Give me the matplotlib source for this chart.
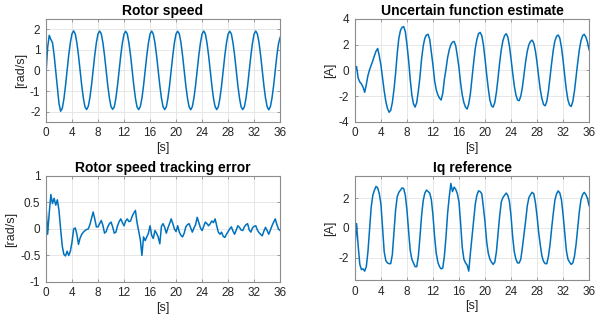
import numpy as np
import matplotlib
matplotlib.use("Agg")
import matplotlib.pyplot as plt

plt.rcParams['font.family'] = ['Liberation Sans', 'DejaVu Sans']
plt.rcParams['axes.unicode_minus'] = False

dt = 0.25

rotor_speed = [
    -0.2, 1.1, 1.7, 1.5, 1.35, 0.75, -0.05, -0.85, -1.6, -1.98, -1.85, -1.4, -0.75, 0.0, 0.75, 1.35,
    1.78, 1.92, 1.77, 1.34, 0.72, 0.0, -0.74, -1.35, -1.77, -1.9, -1.75, -1.33, -0.72, 0.01, 0.74, 1.35,
    1.77, 1.91, 1.78, 1.35, 0.73, -0.01, -0.73, -1.34, -1.76, -1.89, -1.77, -1.34, -0.73, 0.0, 0.73, 1.34,
    1.76, 1.9, 1.77, 1.33, 0.74, 0.0, -0.72, -1.35, -1.77, -1.9, -1.76, -1.35, -0.74, 0.0, 0.72, 1.33,
    1.77, 1.91, 1.76, 1.34, 0.73, 0.01, -0.73, -1.34, -1.76, -1.9, -1.77, -1.34, -0.73, -0.01, 0.73, 1.35,
    1.78, 1.9, 1.77, 1.35, 0.72, 0.0, -0.74, -1.34, -1.77, -1.91, -1.76, -1.33, -0.72, 0.0, 0.74, 1.34,
    1.77, 1.91, 1.78, 1.34, 0.73, 0.0, -0.73, -1.35, -1.76, -1.9, -1.76, -1.34, -0.73, 0.01, 0.73, 1.34,
    1.76, 1.9, 1.77, 1.34, 0.74, 0.0, -0.73, -1.34, -1.77, -1.9, -1.77, -1.35, -0.74, 0.0, 0.72, 1.33,
    1.77, 1.91, 1.77, 1.35, 0.73, 0.0, -0.73, -1.34, -1.76, -1.91, -1.76, -1.34, -0.73, 0.0, 0.73, 1.3,
    1.6,
]

uncertain_est = [
    0.0, 0.3, -0.6, -0.9, -1.05, -1.3, -1.7, -1.1, -0.4, 0.05, 0.4, 0.75, 1.15, 1.5, 1.7, 1.1,
    0.4, -0.6, -1.6, -2.4, -2.95, -3.25, -3.1, -2.5, -1.5, -0.25, 1.3, 2.5, 3.1, 3.35, 3.4, 3.0,
    2.0, 0.8, -0.7, -1.9, -2.6, -2.85, -2.5, -1.6, -0.5, 0.9, 1.9, 2.5, 2.75, 2.8, 2.4, 1.4,
    0.4, -0.8, -1.5, -1.9, -2.15, -2.3, -1.8, -0.7, 0.1, 1.0, 1.6, 2.0, 2.2, 2.25, 1.9, 1.1,
    0.2, -1.0, -1.9, -2.5, -2.85, -3.0, -2.6, -1.8, -0.6, 0.6, 1.7, 2.4, 2.85, 2.95, 2.7, 2.0,
    0.9, -0.3, -1.4, -2.3, -2.75, -2.85, -2.5, -1.7, -0.6, 0.6, 1.6, 2.3, 2.7, 2.85, 2.6, 1.9,
    0.9, -0.2, -1.2, -1.9, -2.3, -2.35, -2.0, -1.3, -0.3, 0.7, 1.5, 2.0, 2.25, 2.35, 2.1, 1.5,
    0.6, -0.5, -1.5, -2.2, -2.65, -2.75, -2.4, -1.6, -0.5, 0.6, 1.6, 2.3, 2.65, 2.75, 2.5, 1.8,
    0.8, -0.4, -1.5, -2.3, -2.7, -2.8, -2.4, -1.6, -0.5, 0.6, 1.6, 2.3, 2.7, 2.8, 2.6, 2.2,
    1.6,
]

tracking_err = [
    0.45, -0.1, 0.3, 0.65, 0.48, 0.58, 0.45, 0.55, 0.35, 0.0, -0.32, -0.48, -0.51, -0.42, -0.5, -0.42,
    -0.25, 0.0, 0.02, -0.1, -0.29, -0.17, -0.1, -0.06, -0.03, -0.01, 0.0, 0.08, 0.2, 0.32, 0.19, 0.04,
    0.04, 0.1, 0.16, 0.07, -0.08, -0.05, 0.04, 0.1, 0.13, 0.04, -0.08, -0.06, 0.06, 0.14, 0.19, 0.12,
    0.06, 0.15, 0.19, 0.14, 0.15, 0.24, 0.3, 0.35, 0.12, -0.04, -0.2, -0.5, -0.15, -0.22, -0.15, -0.08,
    0.06, -0.12, -0.18, -0.03, -0.08, -0.15, -0.28, 0.05, 0.1, 0.03, -0.08, 0.02, 0.1, 0.19, 0.1, 0.0,
    -0.05, 0.06, -0.06, -0.12, -0.15, -0.08, 0.04, 0.08, 0.1, 0.02, -0.06, 0.02, 0.08, 0.22, 0.12, 0.02,
    -0.03, 0.05, 0.13, 0.1, 0.06, 0.1, 0.15, 0.12, 0.19, 0.06, -0.06, -0.1, -0.06, -0.14, -0.16, -0.1,
    -0.05, 0.0, 0.04, -0.04, -0.1, -0.02, 0.06, 0.03, -0.02, -0.03, 0.04, 0.08, 0.1, -0.02, -0.06, 0.02,
    0.05, 0.06, -0.02, -0.07, -0.1, -0.13, -0.04, 0.03, -0.03, -0.1, -0.02, 0.06, 0.13, 0.19, 0.08, 0.0,
    -0.03,
]

iq_ref = [
    -1.25, 0.3, -1.2, -2.45, -2.8, -2.75, -2.9, -2.6, -1.6, -0.1, 1.4, 2.2, 2.55, 2.8, 2.7, 2.3,
    1.6, 0.0, -1.6, -2.2, -2.35, -2.4, -2.4, -1.8, -0.3, 1.2, 2.1, 2.4, 2.55, 2.7, 2.65, 2.2,
    1.2, -0.2, -1.5, -2.1, -2.35, -2.6, -2.6, -1.9, -0.6, 0.85, 1.85, 2.35, 2.55, 2.45, 2.35, 1.9,
    0.85, -0.6, -1.7, -2.3, -2.6, -2.75, -2.7, -1.9, -0.6, 1.0, 2.1, 3.0, 2.45, 2.75, 2.6, 2.3,
    1.75, 0.3, -1.3, -2.1, -2.35, -2.5, -2.9, -1.7, -0.6, 0.5, 1.6, 2.2, 2.5, 2.45, 2.3, 1.4,
    0.4, -0.9, -1.7, -2.1, -2.3, -2.45, -2.3, -1.6, -0.4, 0.8, 1.75, 2.05, 2.2, 2.35, 2.2, 1.8,
    0.8, -0.6, -1.6, -2.1, -2.35, -2.35, -2.1, -1.3, -0.4, 0.5, 1.5, 2.05, 2.25, 2.4, 2.3, 1.7,
    0.8, -0.3, -1.15, -1.9, -2.25, -2.4, -2.4, -1.9, -1.1, 0.0, 1.0, 1.9, 2.3, 2.5, 2.35, 1.9,
    0.9, -0.3, -1.5, -2.1, -2.3, -2.45, -2.35, -1.9, -1.1, 0.0, 1.1, 1.9, 2.25, 2.4, 2.25, 2.0,
    1.5,
]

x_ticks = [0, 4, 8, 12, 16, 20, 24, 28, 32, 36]

panels = [
    ("Rotor speed", rotor_speed, "[rad/s]", (-2.5, 2.5), [-2, -1, 0, 1, 2]),
    ("Uncertain function estimate", uncertain_est, "[A]", (-4, 4), [-4, -2, 0, 2, 4]),
    ("Rotor speed tracking error", tracking_err, "[rad/s]", (-1, 1), [-1, -0.5, 0, 0.5, 1]),
    ("Iq reference", iq_ref, "[A]", (-3.5, 3.5), [-2, 0, 2]),
]

boxes = [
    [0.075, 0.619, 0.382, 0.322],
    [0.579, 0.619, 0.382, 0.322],
    [0.075, 0.119, 0.382, 0.331],
    [0.579, 0.125, 0.382, 0.325],
]

line_col = "#0072BD"
txt_col = "#262626"

fig = plt.figure(figsize=(6.13, 3.2), dpi=100)

for (title, vals, ylab, ylim, yticks), box in zip(panels, boxes):
    ax = fig.add_axes(box)
    t = np.arange(len(vals)) * dt
    ax.plot(t, vals, color=line_col, lw=1.1)
    ax.set_xlim(0, 36)
    ax.set_ylim(*ylim)
    ax.set_xticks(x_ticks)
    ax.set_yticks(yticks)
    ax.set_yticklabels([("%g" % v) for v in yticks])
    ax.grid(True, color="#e3e3e3", lw=0.6)
    ax.set_axisbelow(True)
    for s in ax.spines.values():
        s.set_color("#8c8c8c")
        s.set_linewidth(0.8)
    ax.tick_params(direction="in", length=2.5, width=0.6, color="#8c8c8c",
                   labelsize=8.5, labelcolor=txt_col, pad=4, top=True, right=True)
    ax.set_title(title, fontsize=10, fontweight="bold", color="black", pad=3)
    ax.set_xlabel("[s]", fontsize=9, color=txt_col, labelpad=2)
    ax.set_ylabel(ylab, fontsize=9, color=txt_col, labelpad=2)

fig.savefig("out.png", dpi=100, facecolor="white")
